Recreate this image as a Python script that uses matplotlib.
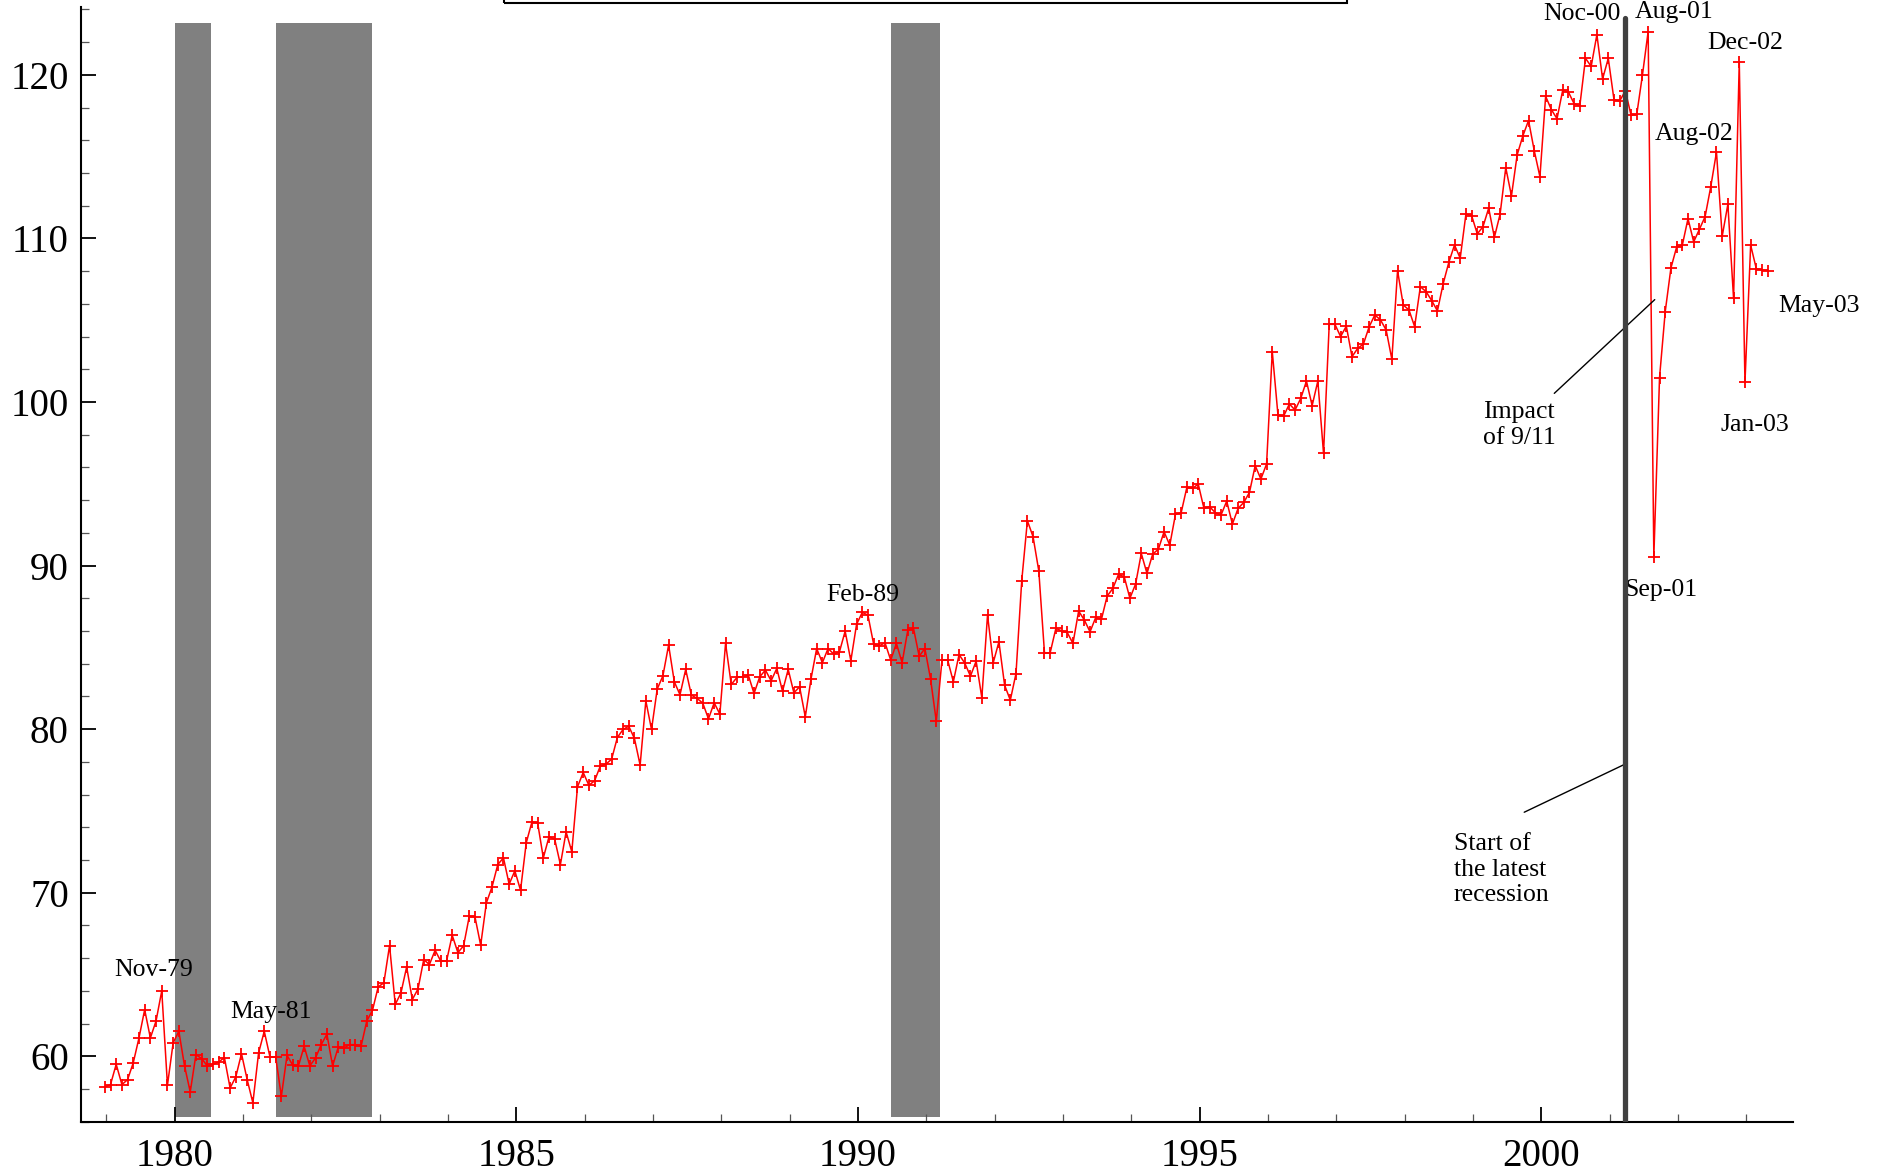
import matplotlib
matplotlib.use("Agg")
import matplotlib.pyplot as plt
from matplotlib.patches import Rectangle
from matplotlib.ticker import MultipleLocator

# Monthly index, January 1979 - May 2003
start_year = 1979
index_values = [
    # 1979
    58.12, 58.27, 59.51, 58.27, 58.57, 59.61, 61.12, 62.85, 61.12, 62.16, 64.00, 58.23,
    # 1980
    60.82, 61.53, 59.41, 57.82, 60.10, 59.86, 59.41, 59.51, 59.65, 59.92, 58.06, 58.74,
    # 1981
    60.16, 58.57, 57.15, 60.20, 61.53, 59.96, 59.96, 57.55, 60.06, 59.45, 59.41, 60.61,
    # 1982
    59.41, 59.90, 60.71, 61.35, 59.41, 60.57, 60.51, 60.71, 60.71, 60.61, 62.16, 62.81,
    # 1983
    64.24, 64.49, 66.77, 63.17, 63.87, 65.46, 63.47, 64.12, 65.91, 65.61, 66.48, 65.81,
    # 1984
    65.81, 67.40, 66.34, 66.75, 68.56, 68.52, 66.79, 69.38, 70.36, 71.72, 72.13, 70.52,
    # 1985
    71.34, 70.15, 73.05, 74.33, 74.27, 72.13, 73.42, 73.27, 71.72, 73.72, 72.50, 76.47,
    # 1986
    77.35, 76.57, 76.84, 77.74, 77.86, 78.17, 79.49, 79.98, 80.18, 79.43, 77.80, 81.73,
    # 1987
    79.98, 82.45, 83.26, 85.14, 82.90, 82.10, 83.65, 82.08, 81.88, 81.59, 80.63, 81.61,
    # 1988
    80.92, 85.24, 82.73, 83.16, 83.20, 83.30, 82.18, 83.20, 83.61, 82.96, 83.71, 82.32,
    # 1989
    83.65, 82.22, 82.59, 80.75, 83.06, 84.93, 84.06, 84.93, 84.59, 84.73, 85.99, 84.18,
    # 1990
    86.40, 87.14, 86.97, 85.20, 85.10, 85.28, 84.22, 85.24, 84.06, 86.05, 86.16, 84.46,
    # 1991
    84.93, 83.06, 80.49, 84.22, 84.22, 82.90, 84.56, 84.04, 83.24, 84.16, 81.92, 86.97,
    # 1992
    84.06, 85.34, 82.69, 81.77, 83.40, 89.05, 92.74, 91.76, 89.68, 84.67, 84.67, 86.16,
    # 1993
    86.01, 85.91, 85.24, 87.22, 86.67, 85.95, 86.83, 86.71, 88.13, 88.60, 89.46, 89.32,
    # 1994
    88.00, 88.87, 90.74, 89.52, 90.70, 91.00, 92.07, 91.25, 93.13, 93.23, 94.78, 94.72,
    # 1995
    94.98, 93.50, 93.60, 93.23, 93.09, 93.94, 92.54, 93.50, 93.86, 94.48, 96.11, 95.29,
    # 1996
    96.21, 103.08, 99.20, 99.14, 99.88, 99.51, 100.22, 101.28, 99.78, 101.28, 96.86, 104.75,
    # 1997
    104.75, 104.00, 104.64, 102.77, 103.28, 103.54, 104.59, 105.32, 105.02, 104.40, 102.61, 108.03,
    # 1998
    105.93, 105.63, 104.61, 107.05, 106.75, 106.20, 105.57, 107.22, 108.54, 109.60, 108.79, 111.48,
    # 1999
    111.40, 110.28, 110.72, 111.85, 110.07, 111.48, 114.33, 112.60, 115.11, 116.27, 117.21, 115.37,
    # 2000
    113.77, 118.69, 117.88, 117.32, 119.07, 118.95, 118.24, 118.10, 121.01, 120.52, 122.46, 119.75,
    # 2001
    121.01, 118.49, 118.40, 119.03, 117.53, 117.58, 119.99, 122.65, 90.54, 101.49, 105.53, 108.19,
    # 2002
    109.47, 109.59, 111.21, 109.79, 110.56, 111.33, 113.17, 115.28, 110.13, 112.09, 106.33, 120.79,
    # 2003
    101.20, 109.59, 108.14, 108.07, 108.03,
]

# Shaded recession periods (decimal years)
recessions = [(1980.0, 1980.53), (1981.49, 1982.89), (1990.49, 1991.20)]
latest_recession_start = 2001.22

# Labelled months: text, (year, month), label offset in pixels
point_labels = ["Nov-79", "May-81", "Feb-89", "Noc-00", "Aug-01",
                "Sep-01", "Aug-02", "Dec-02", "Jan-03", "May-03"]
point_dates = [(1979, 11), (1981, 5), (1990, 2), (2000, 11), (2001, 8),
               (2001, 9), (2002, 8), (2002, 12), (2003, 1), (2003, 5)]
label_offsets = [(-8, 21), (7, 19), (1, 17), (-15, 21), (26, 20),
                 (7, -33), (-22, 18), (6, 19), (10, -43), (51, -35)]

serif = "Liberation Serif"
plt.rcParams["font.family"] = [serif, "DejaVu Serif"]

x = [start_year + i / 12.0 - 0.02 for i in range(len(index_values))]

fig = plt.figure(figsize=(18.91, 11.75), dpi=100)
ax = fig.add_axes([81.3 / 1891, 1 - 1121.7 / 1175,
                   (1793 - 81.3) / 1891, (1121.7 - 7) / 1175])

for a, b in recessions:
    ax.fill_between([a, b], 56.27, 123.18, color="#808080", lw=0, zorder=1)

ax.plot(x, index_values, color="red", lw=1.1, marker="+", ms=8, mew=1.3, zorder=3)

ax.plot([latest_recession_start, latest_recession_start], [55, 123.5],
        color="#404040", lw=3.8, solid_capstyle="round", zorder=4)

for text, (yr, mo), (dx, dy) in zip(point_labels, point_dates, label_offsets):
    i = (yr - start_year) * 12 + (mo - 1)
    ax.annotate(text, xy=(x[i], index_values[i]), xytext=(dx, dy),
                textcoords="offset pixels", ha="center", va="center",
                fontsize=18.5, annotation_clip=False)

ax.text(1999.14, 98.6, "Impact\nof 9/11", ha="left", va="center",
        fontsize=18.5, linespacing=1.2)
ax.annotate("", xy=(2001.66, 106.26), xytext=(2000.19, 100.53),
            arrowprops=dict(arrowstyle="-", lw=1.0, color="black",
                            shrinkA=0, shrinkB=0))

ax.text(1998.72, 73.62, "Start of\nthe latest\nrecession", ha="left", va="top",
        fontsize=18.5, linespacing=1.2)
ax.annotate("", xy=(latest_recession_start + 0.04, 77.93), xytext=(1999.75, 74.92),
            arrowprops=dict(arrowstyle="-", lw=1.0, color="black",
                            shrinkA=0, shrinkB=0))

ax.set_xlim(1978.636, 2003.683)
ax.set_ylim(56, 124.15)

ax.xaxis.set_major_locator(MultipleLocator(5))
ax.xaxis.set_minor_locator(MultipleLocator(1))
ax.yaxis.set_major_locator(MultipleLocator(10))
ax.yaxis.set_minor_locator(MultipleLocator(2))

ax.tick_params(axis="both", which="both", direction="in", labelsize=28)
ax.tick_params(axis="both", which="major", width=1.3, length=11)
ax.tick_params(axis="both", which="minor", width=0.9, length=5.7, color="#555555")
ax.tick_params(axis="x", which="major", pad=12)
ax.tick_params(axis="y", which="major", pad=9)

for side in ("top", "right"):
    ax.spines[side].set_visible(False)
for side in ("left", "bottom"):
    ax.spines[side].set_linewidth(1.5)

# Frame of the header box running off the top edge
fig.patches.append(Rectangle((504 / 1891, 1 - 3 / 1175), (1347 - 504) / 1891, 0.05,
                             transform=fig.transFigure, fill=False,
                             edgecolor="black", lw=1.5))

fig.savefig("out.png", dpi=100)
